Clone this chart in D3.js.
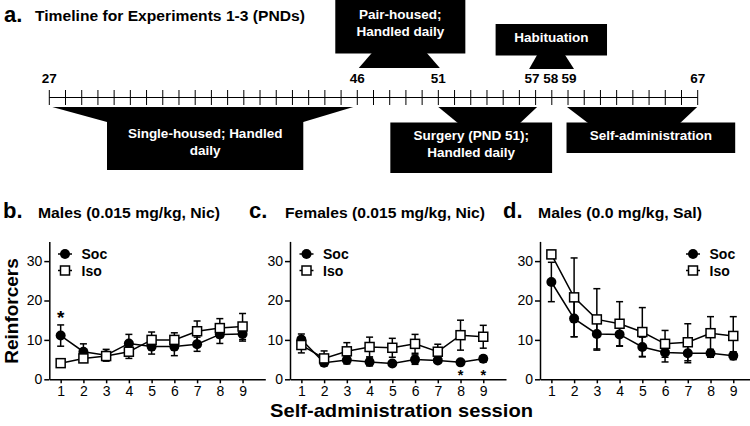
<!DOCTYPE html>
<html><head><meta charset="utf-8">
<script src="https://cdn.jsdelivr.net/npm/d3@7"></script>
<style>
body{margin:0;background:#fff}
svg{display:block}
text{font-family:"Liberation Sans",Arial,Helvetica,sans-serif}
</style>
</head><body>
<svg id="chart" width="750" height="426"></svg>
<script>
// ---------- DATA ----------
const sessions = [1,2,3,4,5,6,7,8,9];
const seriesNames = ["Soc","Iso"];
const panelLetters = ["b.","c.","d."];
const panelTitles = ["Males (0.015 mg/kg, Nic)","Females (0.015 mg/kg, Nic)","Males (0.0 mg/kg, Sal)"];
const yTicks = [0,10,20,30];

const socB    = [11.1, 7.0, 6.1, 9.1, 8.3, 8.3, 8.9, 11.4, 11.5];
const socBErr = [2.7, 2.0, 1.5, 2.3, 1.9, 2.3, 1.8, 2.3, 1.8];
const isoB    = [4.1, 5.3, 5.9, 7.0, 10.0, 10.0, 12.2, 13.0, 13.4];
const isoBErr = [0.8, 1.0, 1.0, 1.7, 2.0, 1.8, 2.6, 2.4, 3.3];

const socC    = [10.1, 4.2, 4.9, 4.4, 4.0, 5.0, 4.8, 4.3, 5.2];
const socCErr = [1.4, 0.6, 1.0, 1.0, 0.5, 1.2, 0.6, 0.4, 0.8];
const isoC    = [8.7, 5.3, 7.1, 8.2, 8.0, 9.0, 7.0, 11.2, 10.8];
const isoCErr = [2.0, 1.9, 2.2, 2.5, 2.4, 2.4, 1.9, 3.8, 2.9];

const socD    = [24.7, 15.4, 11.5, 11.4, 8.2, 6.8, 6.6, 6.6, 6.0];
const socDErr = [5.0, 4.6, 3.8, 3.0, 2.5, 2.4, 2.4, 1.0, 1.0];
const isoD    = [31.7, 20.8, 15.2, 14.1, 12.0, 9.0, 9.4, 11.7, 11.0];
const isoDErr = [1.0, 10.0, 7.8, 5.6, 6.2, 3.4, 4.7, 4.2, 4.9];

const sigAbove = [[1], [], []];   // sessions with * above (per panel)
const sigBelow = [[], [8, 9], []]; // sessions with * below (per panel)

const timelineTitle = "Timeline for Experiments 1-3 (PNDs)";
const timelineFirstDay = 27, timelineLastDay = 67;
const timelineLabels = [27, 46, 51, 57, 58, 59, 67];
const phaseLines = [["Single-housed; Handled","daily"],["Pair-housed;","Handled daily"],["Habituation"],["Surgery (PND 51);","Handled daily"],["Self-administration"]];
const phaseStart = [27, 46, 57, 51, 59];
const phaseEnd   = [46, 51, 59, 57, 67];

const xAxisLabel = "Self-administration session";
const yAxisLabel = "Reinforcers";

// ---------- LAYOUT ----------
const svg = d3.select("#chart");
const FONT = '"Liberation Sans",Arial,Helvetica,sans-serif';

// Panel a: timeline
svg.append("text").attr("x",4).attr("y",22).attr("font-size",22).attr("font-weight","bold").text("a.");
svg.append("text").attr("x",35).attr("y",21).attr("font-size",14.5).attr("font-weight","bold")
  .attr("textLength",270).attr("lengthAdjust","spacingAndGlyphs").text(timelineTitle);

const tx = d3.scaleLinear().domain([timelineFirstDay, timelineLastDay]).range([49.3, 697.7]);
const lineY = 97.5;
svg.append("line").attr("x1",tx(timelineFirstDay)).attr("x2",tx(timelineLastDay))
  .attr("y1",lineY).attr("y2",lineY).attr("stroke","#000").attr("stroke-width",1.2);
svg.append("g").selectAll("line").data(d3.range(timelineFirstDay, timelineLastDay+1)).join("line")
  .attr("x1",d=>tx(d)).attr("x2",d=>tx(d)).attr("y1",lineY-7.5).attr("y2",lineY+7.5)
  .attr("stroke","#000").attr("stroke-width",1);
const labelNudge = {57:-3.5, 58:-1, 59:1};
svg.append("g").selectAll("text").data(timelineLabels).join("text")
  .attr("x",d=>tx(d)+(labelNudge[d]||0)).attr("y",83).attr("text-anchor","middle")
  .attr("font-size",13.5).attr("font-weight","bold").text(d=>d);

// geometry per phase (pixel offsets relative to phase start/end positions)
const phaseGeom = [
  {side:"below", tL:3,  tR:-4, bL:57.7, bR:-54, boxL:57.7, boxR:-54, y0:107, y1:122, yb:170, base:[138,155], size:13.5},
  {side:"above", tL:14.5, tR:-11.5, bL:1.5, bR:1.5, boxL:-22, boxR:27, y0:53, y1:68, yb:0, base:[19,36], size:13.5},
  {side:"above", tL:1.5, tR:-3, bL:-6.5, bR:6, boxL:-40, boxR:39, y0:55, y1:69, yb:24, base:[42], size:13.5},
  {side:"below", tL:0, tR:1.5, bL:19.5, bR:-15.5, boxL:-48, boxR:16.5, y0:107, y1:123, yb:173, base:[140,157], size:13.5},
  {side:"below", tL:-1, tR:-0.5, bL:20, bR:-17.5, boxL:-1.5, boxR:37.5, y0:107, y1:123, yb:153, base:[140], size:13.5}
];
phaseLines.forEach((lines,i)=>{
  const g = phaseGeom[i], xs = tx(phaseStart[i]), xe = tx(phaseEnd[i]);
  svg.append("path").attr("d","M"+[[xs+g.tL,g.y0],[xe+g.tR,g.y0],[xe+g.bR,g.y1],[xs+g.bL,g.y1]].join("L")+"Z").attr("fill","#000");
  if (g.side === "below") {
    svg.append("rect").attr("x",xs+g.boxL).attr("y",g.y1-0.5).attr("width",(xe+g.boxR)-(xs+g.boxL)).attr("height",g.yb-g.y1+0.5).attr("fill","#000");
  } else {
    svg.append("rect").attr("x",xs+g.boxL).attr("y",g.yb).attr("width",(xe+g.boxR)-(xs+g.boxL)).attr("height",g.y0-g.yb+0.5).attr("fill","#000");
  }
  const cx = ((xs+g.boxL)+(xe+g.boxR))/2;
  lines.forEach((t,j)=>{
    svg.append("text").attr("x",cx).attr("y",g.base[j]).attr("text-anchor","middle")
      .attr("fill","#fff").attr("font-size",g.size).attr("font-weight","bold").text(t);
  });
});

// Panels b-d
const panels = [
  {soc:socB, socE:socBErr, iso:isoB, isoE:isoBErr},
  {soc:socC, socE:socCErr, iso:isoC, isoE:isoCErr},
  {soc:socD, socE:socDErr, iso:isoD, isoE:isoDErr}
];
const axisX = [49.3, 290, 540];
const letterX = [3, 249, 503];
const titleX = [38, 285, 538];
const titleW = [182, 200, 164];
const legendX = [65, 306.5, 693];
const y = d3.scaleLinear().domain([0,35]).range([379.3, 241.4]);

panels.forEach((p,i)=>{
  const g = svg.append("g");
  const x = d3.scaleLinear().domain([0.5,10]).range([axisX[i], axisX[i]+216]);

  g.append("text").attr("x",letterX[i]).attr("y",218).attr("font-size",22).attr("font-weight","bold").text(panelLetters[i]);
  g.append("text").attr("x",titleX[i]).attr("y",218).attr("font-size",15).attr("font-weight","bold")
    .attr("textLength",titleW[i]).attr("lengthAdjust","spacingAndGlyphs").text(panelTitles[i]);

  const ya = g.append("g").attr("transform",`translate(${axisX[i]},0)`)
    .call(d3.axisLeft(y).tickValues(yTicks).tickSize(5).tickSizeOuter(0).tickPadding(2));
  const xa = g.append("g").attr("transform",`translate(0,${y(0)})`)
    .call(d3.axisBottom(x).tickValues(sessions).tickSize(4).tickSizeOuter(0).tickPadding(3));
  [ya,xa].forEach(a=>{
    a.select(".domain").attr("stroke","#000").attr("stroke-width",1.5);
    a.selectAll(".tick line").attr("stroke","#000").attr("stroke-width",1.5);
    a.selectAll(".tick text").attr("font-family",FONT).attr("font-size",14).attr("fill","#000");
  });

  const series = [
    {vals:p.soc, err:p.socE, type:"circle"},
    {vals:p.iso, err:p.isoE, type:"square"}
  ];
  const line = d3.line().x((d,k)=>x(sessions[k])).y(d=>y(d));
  series.forEach(s=>{
    const eb = g.append("g").attr("stroke","#000").attr("stroke-width",1.5);
    sessions.forEach((sess,k)=>{
      const lo = Math.max(0, s.vals[k]-s.err[k]), hi = Math.min(35, s.vals[k]+s.err[k]);
      const cx = x(sess);
      eb.append("line").attr("x1",cx).attr("x2",cx).attr("y1",y(lo)).attr("y2",y(hi));
      if (s.vals[k]+s.err[k] <= 35) eb.append("line").attr("x1",cx-3.5).attr("x2",cx+3.5).attr("y1",y(hi)).attr("y2",y(hi));
      eb.append("line").attr("x1",cx-3.5).attr("x2",cx+3.5).attr("y1",y(lo)).attr("y2",y(lo));
    });
    g.append("path").datum(s.vals).attr("d",line).attr("fill","none").attr("stroke","#000").attr("stroke-width",1.5);
  });
  series.forEach(s=>{
    if (s.type==="circle") {
      g.append("g").selectAll("circle").data(s.vals).join("circle")
        .attr("cx",(d,k)=>x(sessions[k])).attr("cy",d=>y(d)).attr("r",5).attr("fill","#000");
    } else {
      g.append("g").selectAll("rect").data(s.vals).join("rect")
        .attr("x",(d,k)=>x(sessions[k])-4.5).attr("y",d=>y(d)-4.5).attr("width",9).attr("height",9)
        .attr("fill","#fff").attr("stroke","#000").attr("stroke-width",1.5);
    }
  });

  // significance asterisks
  sigAbove[i].forEach(sess=>{
    const k = sessions.indexOf(sess);
    const top = p.soc[k]+p.socE[k];
    g.append("text").attr("x",x(sess)).attr("y",y(top)-11+10.5).attr("text-anchor","middle")
      .attr("font-size",19).attr("font-weight","bold").text("*");
  });
  sigBelow[i].forEach(sess=>{
    g.append("text").attr("x",x(sess)).attr("y",y(0)+0.5).attr("text-anchor","middle")
      .attr("font-size",14.5).attr("font-weight","bold").text("*");
  });

  // legend
  const ly = [254, 270.5];
  const lg = g.append("g");
  seriesNames.forEach((nm,j)=>{
    lg.append("line").attr("x1",legendX[i]-7).attr("x2",legendX[i]+7).attr("y1",ly[j]).attr("y2",ly[j])
      .attr("stroke","#000").attr("stroke-width",1.5);
    if (j===0) lg.append("circle").attr("cx",legendX[i]).attr("cy",ly[j]).attr("r",5).attr("fill","#000");
    else lg.append("rect").attr("x",legendX[i]-4.5).attr("y",ly[j]-4.5).attr("width",9).attr("height",9)
      .attr("fill","#fff").attr("stroke","#000").attr("stroke-width",1.5);
    lg.append("text").attr("x",legendX[i]+16.5).attr("y",ly[j]+5).attr("font-size",14).attr("font-weight","bold").text(nm);
  });
});

// shared axis labels
svg.append("text").attr("transform","translate(18.3,311) rotate(-90)").attr("text-anchor","middle")
  .attr("font-size",19).attr("font-weight","bold").text(yAxisLabel);
svg.append("text").attr("x",401.5).attr("y",417).attr("text-anchor","middle")
  .attr("font-size",19).attr("font-weight","bold")
  .attr("textLength",263).attr("lengthAdjust","spacingAndGlyphs").text(xAxisLabel);
</script>
</body></html>
